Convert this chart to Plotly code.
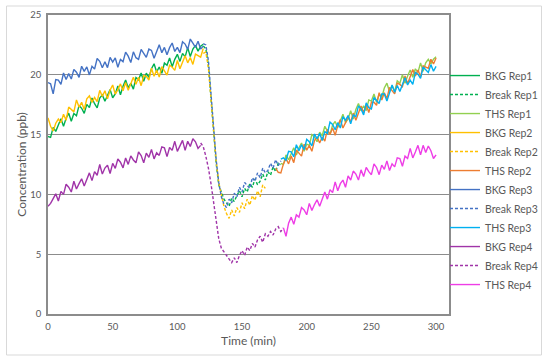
import plotly.graph_objects as go

# ---------------- data (ppb), sampled every 2 min ----------------
STEP = 2
bkg_start = 0
break_start = 120
ths_start = 180
bkg4_start = 0
break4_start = 118
ths4_start = 182
ths2_start = 176

bkg1 = [14.85,14.77,15.6,15.27,15.8,16.32,15.7,16.37,16.79,16.12,
        16.76,16.57,17.44,17.2,16.77,17.53,17.25,18.06,17.58,17.24,
        18.06,18.32,17.79,18.25,18.77,18.08,18.4,19.06,18.33,19.04,
        19.56,18.92,19.29,18.8,19.77,19.58,20.15,19.46,20.13,19.79,
        20.51,20.92,20.24,20.65,20.12,20.98,20.8,21.41,20.68,21.29,
        21.71,21.12,21.79,21.5,22.27,21.53,22.15,22.46,21.98,22.39,
        22.56]
break1 = [22.4,22.2,20.8,17.8,15.0,12.6,10.8,10.1,9.6,9.3,
          9.0,9.7,9.4,9.9,10.3,9.8,10.5,10.2,10.9,10.6,
          11.3,10.8,11.1,11.7,11.2,11.9,11.6,12.3,11.9,12.6,
          12.5]
ths1 = [12.6,12.5,13.3,12.9,13.4,13.9,13.3,13.9,14.3,13.6,
        14.2,14.1,15.0,14.8,14.4,15.2,14.9,15.7,15.3,15.0,
        15.8,16.1,15.6,16.1,16.7,16.0,16.3,17.0,16.3,17.1,
        17.6,17.0,17.4,17.0,17.9,17.8,18.4,17.7,18.4,18.1,
        18.9,19.3,18.6,19.1,18.6,19.5,19.3,20.0,19.3,19.9,
        20.4,19.8,20.5,20.2,21.0,20.3,21.0,21.3,20.9,21.3,
        21.5]

bkg2 = [16.4,15.7,15.3,15.95,16.3,16.0,16.7,16.2,17.3,17.1,
        16.9,17.9,17.3,17.7,17.1,18.0,18.25,17.7,18.1,17.75,
        18.7,18.18,18.66,17.99,18.72,19.15,18.38,18.76,19.24,18.67,
        19.35,18.7,19.35,19.8,19.2,19.8,19.09,19.93,19.87,19.56,
        20.55,19.87,20.39,19.81,20.68,20.3,19.98,20.81,20.64,20.37,
        21.2,20.5,21.1,21.6,21.0,21.45,20.87,21.74,21.61,21.48,
        22.2]
break2 = [21.8,21.9,20.6,18.0,15.3,12.8,11.0,9.9,9.0,8.4,
          8.0,8.7,8.2,8.9,8.5,9.3,8.8,9.6,9.1,9.9,
          9.5,10.3,9.8,10.8,10.5]
ths2 = [12.2,11.85,11.8,12.55,13.0,12.55,13.2,12.65,13.7,13.45,
        13.2,14.2,13.7,14.1,13.6,14.5,14.8,14.3,14.8,14.45,
        15.45,15.0,15.55,14.95,15.75,16.25,15.55,16.0,16.55,16.05,
        16.8,16.2,16.9,17.4,16.85,17.5,16.85,17.7,17.7,17.45,
        18.5,17.9,18.5,18.0,18.95,18.65,18.4,19.3,19.2,19.0,
        19.9,19.25,19.9,20.45,19.9,20.4,19.85,20.75,20.65,20.55,
        21.3,20.9,21.4]

bkg3 = [19.35,19.25,18.4,19.6,19.55,19.2,20.15,19.6,20.1,19.65,
        20.45,20.22,19.79,20.72,20.29,20.66,19.99,20.71,20.48,21.36,
        21.13,20.59,21.09,20.6,21.46,21.07,21.42,20.63,21.29,21.1,
        21.9,21.56,21.02,21.92,21.43,21.29,22.13,21.77,21.46,22.15,
        22.04,21.38,21.87,22.51,21.85,22.29,21.68,22.27,22.66,21.95,
        22.29,21.85,22.76,22.57,22.13,22.99,22.65,22.3,22.8,22.15,
        22.4]
break3 = [22.6,22.5,21.2,18.4,15.4,12.9,11.0,9.8,9.2,8.9,
          9.6,9.3,10.1,9.8,10.6,10.2,11.0,10.7,10.5,11.4,
          11.1,11.8,11.4,12.2,11.8,12.0,12.6,12.2,12.9,12.4,
          12.8]
ths3 = [12.95,13.05,12.85,13.6,13.55,13.15,14.15,13.65,14.15,13.75,
        14.6,14.4,14.05,15.05,14.65,15.1,14.5,15.25,15.1,16.05,
        15.85,15.4,16.0,15.55,16.5,16.2,16.6,15.9,16.65,16.5,
        17.4,17.15,16.65,17.65,17.25,17.15,18.1,17.85,17.6,18.4,
        18.4,17.8,18.4,19.15,18.55,19.1,18.6,19.25,19.75,19.15,
        19.55,19.2,20.2,20.05,19.7,20.65,20.4,20.2,20.85,20.3,
        20.7]

bkg4 = [9.0,9.25,9.65,10.05,9.45,10.25,10.0,10.85,10.6,10.2,
        11.1,10.45,10.9,11.3,10.7,11.2,11.8,11.15,11.9,11.6,
        12.5,11.7,12.2,12.45,11.75,12.6,12.18,12.96,12.69,12.22,
        13.05,12.51,13.22,12.88,12.64,13.55,13.25,12.65,13.45,13.1,
        13.75,12.97,13.49,13.26,13.98,13.9,13.16,13.92,13.68,14.44,
        13.6,14.06,14.52,13.68,14.44,14.0,14.65,14.4,13.85,14.1]
break4 = [14.3,14.0,13.2,12.2,10.9,9.3,7.6,6.3,5.5,5.2,
          5.0,4.6,4.3,4.7,4.3,4.9,5.3,4.9,5.6,5.3,
          5.9,5.6,6.2,6.5,6.0,6.7,6.5,6.9,6.6,7.1,
          7.3,6.9,7.2]
ths4 = [7.2,6.5,7.6,8.1,7.5,8.3,8.1,8.9,8.7,8.3,
        9.25,8.65,9.15,9.55,9.0,9.57,10.2,9.6,10.4,10.15,
        11.05,10.3,10.9,11.2,10.6,11.55,11.2,11.95,11.7,11.2,
        12.05,11.5,12.25,11.9,11.65,12.55,12.25,11.65,12.45,12.1,
        12.8,12.0,12.55,12.3,13.05,13.0,12.35,13.2,13.0,13.85,
        13.05,13.55,14.1,13.3,14.1,13.5,14.05,13.65,13.0,13.3]

x_ticks = [0, 50, 100, 150, 200, 250, 300]
y_ticks = [0, 5, 10, 15, 20, 25]


def times(start, vals):
    return [start + STEP * i for i in range(len(vals))]


DASH = "3px,2px"
series = [
    ("BKG Rep1", bkg_start, bkg1, "#00b050", "solid"),
    ("Break Rep1", break_start, break1, "#00b050", DASH),
    ("THS Rep1", ths_start, ths1, "#92d050", "solid"),
    ("BKG Rep2", bkg_start, bkg2, "#ffc000", "solid"),
    ("Break Rep2", break_start, break2, "#ffc000", DASH),
    ("THS Rep2", ths2_start, ths2, "#ed7d31", "solid"),
    ("BKG Rep3", bkg_start, bkg3, "#4472c4", "solid"),
    ("Break Rep3", break_start, break3, "#4472c4", DASH),
    ("THS Rep3", ths_start, ths3, "#00b0f0", "solid"),
    ("BKG Rep4", bkg4_start, bkg4, "#a034a8", "solid"),
    ("Break Rep4", break4_start, break4, "#a034a8", DASH),
    ("THS Rep4", ths4_start, ths4, "#ee3de6", "solid"),
]

fig = go.Figure()
for name, start, vals, color, dash in series:
    fig.add_trace(go.Scatter(
        x=times(start, vals), y=vals, name=name, mode="lines",
        line=dict(color=color, width=1.4, dash=dash),
    ))

FONT = "Lato, 'Open Sans', sans-serif"
GRID = "#8c8c8c"
TXT = "#595959"

fig.update_layout(
    width=550, height=363,
    margin=dict(l=48, r=101, t=15, b=49, autoexpand=False),
    paper_bgcolor="white", plot_bgcolor="white",
    font=dict(family=FONT, color=TXT),
    showlegend=True,
    legend=dict(
        x=0.99, xanchor="left", y=0.448, yanchor="middle",
        font=dict(family=FONT, size=10.5, color=TXT),
        bgcolor="rgba(0,0,0,0)", tracegroupgap=0,
    ),
    xaxis=dict(
        range=[0, 310], tickvals=x_ticks, ticktext=[str(v) for v in x_ticks],
        showgrid=False, zeroline=False, showline=True, linecolor=GRID,
        linewidth=1.5, mirror=True, ticks="", automargin=False,
        ticklabelstandoff=3,
        tickfont=dict(size=9.5, color=TXT),
        title=dict(text="Time (min)", font=dict(size=12, color=TXT), standoff=5),
    ),
    yaxis=dict(
        range=[0, 25], tickvals=y_ticks, ticktext=[str(v) for v in y_ticks],
        showgrid=True, gridcolor=GRID, gridwidth=1.2, zeroline=False,
        showline=True, linecolor=GRID, linewidth=1.5, mirror=True, ticks="",
        automargin=False, ticklabelstandoff=3,
        tickfont=dict(size=9.5, color=TXT),
        title=dict(text="Concentration (ppb)", font=dict(size=12, color=TXT), standoff=1),
    ),
    shapes=[dict(
        type="rect", xref="paper", yref="paper",
        x0=(6.5 - 48) / 401, x1=(541.5 - 48) / 401,
        y0=(314 - 355) / 299, y1=(314 - 6) / 299,
        line=dict(color="#d9d9d9", width=1), fillcolor="rgba(0,0,0,0)",
        layer="below",
    )],
)

fig.write_html("out.html", config={"displayModeBar": False},
               post_script="document.body.style.margin='0';")
